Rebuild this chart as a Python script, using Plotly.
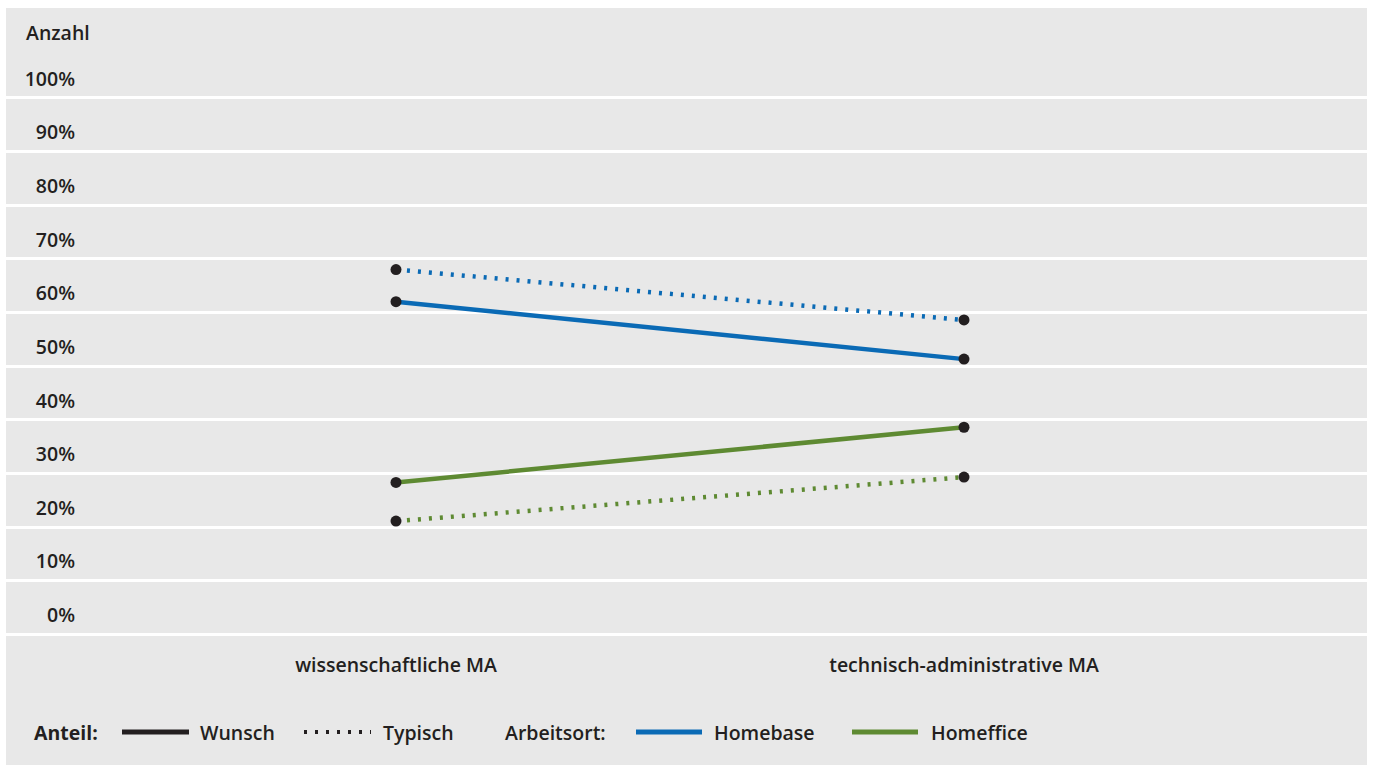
import plotly.graph_objects as go

categories = ["wissenschaftliche MA", "technisch-administrative MA"]
homebase_wunsch = [62.0, 51.3]
homebase_typisch = [68.0, 58.6]
homeffice_wunsch = [28.3, 38.6]
homeffice_typisch = [21.1, 29.3]
y_ticks = [0, 10, 20, 30, 40, 50, 60, 70, 80, 90, 100]
y_tick_labels = [f"{v}%" for v in y_ticks]

BLUE = "#0a6ab5"
GREEN = "#5e8a32"
DARK = "#231f20"
BG = "#e8e8e8"
FONT = "Open Sans"
FS = 19.5

W, H = 1373, 765
ML, MR, MT, MB = 6, 6, 55, 120
PW = W - ML - MR
PH = H - MT - MB

def px_x(x):
    return (x - ML) / PW

def px_y(y):
    return (H - MB - y) / PH

xpos = [0, 1]
fig = go.Figure()
series = [
    (homebase_typisch, BLUE, "3px,8px"),
    (homebase_wunsch, BLUE, "solid"),
    (homeffice_typisch, GREEN, "3px,8px"),
    (homeffice_wunsch, GREEN, "solid"),
]
for vals, col, dash in series:
    fig.add_trace(go.Scatter(
        x=xpos, y=vals, mode="lines",
        line=dict(color=col, width=4.5, dash=dash),
        showlegend=False, hoverinfo="skip"))
for vals, col, dash in series:
    fig.add_trace(go.Scatter(
        x=xpos, y=vals, mode="markers",
        marker=dict(color=DARK, size=11, line=dict(width=0)),
        showlegend=False, hoverinfo="skip"))
# invisible trace on the label axis so it is drawn
fig.add_trace(go.Scatter(x=[None], y=[None], yaxis="y2", showlegend=False, hoverinfo="skip"))

shapes = [
    dict(type="rect", xref="paper", yref="paper", x0=px_x(6), x1=px_x(1367),
         y0=px_y(8), y1=px_y(800), fillcolor=BG, line=dict(width=0), layer="below"),
]
ly = px_y(732)
legend_lines = [
    (122, 189, DARK, "solid"),
    (304, 371, DARK, "3px,8px"),
    (636, 702, BLUE, "solid"),
    (852, 918, GREEN, "solid"),
]
for x0, x1, col, dash in legend_lines:
    shapes.append(dict(type="line", xref="paper", yref="paper",
                       x0=px_x(x0), x1=px_x(x1), y0=ly, y1=ly,
                       line=dict(color=col, width=5 if dash == "solid" else 4, dash=dash)))

annotations = [
    dict(text="Anzahl", xref="paper", yref="paper", x=px_x(24), y=px_y(32),
         xanchor="left", yanchor="middle", showarrow=False,
         font=dict(family=FONT, size=FS, color=DARK, weight=600)),
]
legend_texts = [
    ("Anteil:", 32, 700),
    ("Wunsch", 198, 600),
    ("Typisch", 381, 600),
    ("Arbeitsort:", 503, 600),
    ("Homebase", 712, 600),
    ("Homeffice", 929, 600),
]
for t, x, wgt in legend_texts:
    annotations.append(dict(text=t, xref="paper", yref="paper", x=px_x(x), y=ly,
                            xanchor="left", yanchor="middle", showarrow=False,
                            font=dict(family=FONT, size=FS, color=DARK, weight=wgt)))

yrange = [-2, 108]
fig.update_layout(
    width=W, height=H,
    margin=dict(l=ML, r=MR, t=MT, b=MB, pad=0),
    paper_bgcolor="white", plot_bgcolor=BG,
    shapes=shapes, annotations=annotations,
    xaxis=dict(range=[-(396 - ML) / 568, 1 + (1367 - 964) / 568],
               tickvals=xpos, ticktext=categories, showgrid=False, zeroline=False,
               showline=False, ticks="outside", ticklen=3, tickcolor="rgba(0,0,0,0)",
               tickfont=dict(family=FONT, size=FS, color=DARK, weight=600),
               fixedrange=True),
    yaxis=dict(range=yrange, tickvals=y_ticks, showticklabels=False,
               showgrid=True, gridcolor="white", gridwidth=3, zeroline=False,
               showline=False, ticks="", fixedrange=True),
    yaxis2=dict(range=yrange, overlaying="y", anchor="free", position=px_x(75),
                side="left", tickvals=y_ticks, ticktext=y_tick_labels,
                showgrid=False, zeroline=False, showline=False, ticks="",
                ticklabelshift=-19,
                tickfont=dict(family=FONT, size=FS, color=DARK, weight=600),
                fixedrange=True),
    showlegend=False,
)
fig.write_html("out.html")
